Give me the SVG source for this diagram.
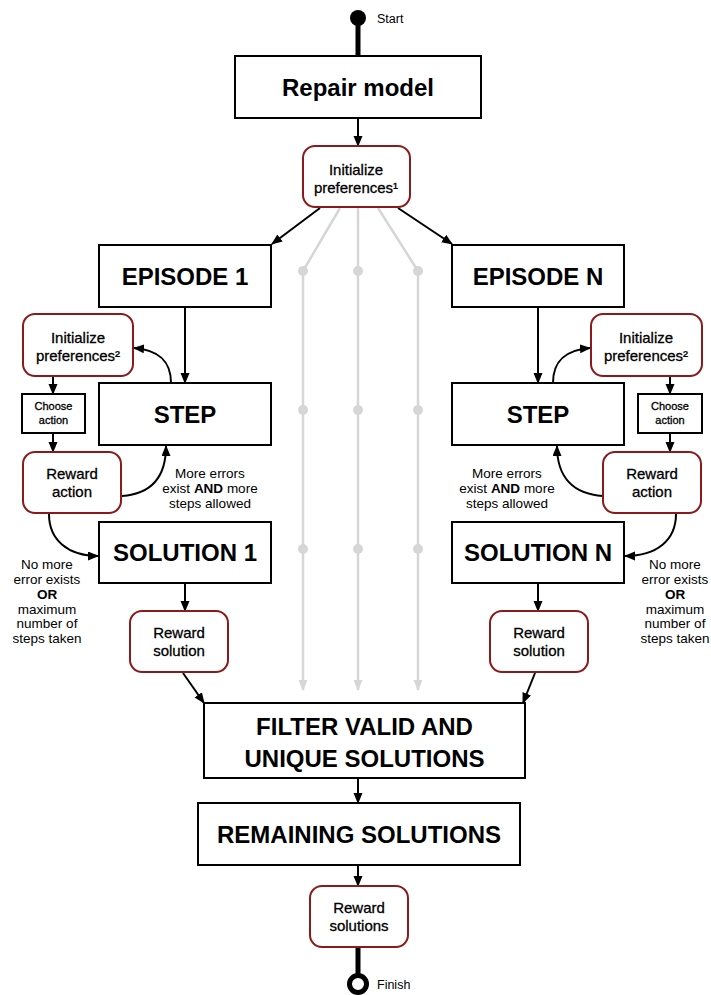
<svg xmlns="http://www.w3.org/2000/svg" width="711" height="995" viewBox="0 0 711 995">
  <style>
    .box { fill: #ffffff; stroke: #000000; stroke-width: 2; }
    .rbox { fill: #ffffff; stroke: #8b1a1a; stroke-width: 2; }
    .head { font-family: "Liberation Sans", Arial, sans-serif; font-weight: bold; font-size: 24px; fill: #000; text-anchor: middle; }
    .node { font-family: "Liberation Sans", Arial, sans-serif; font-size: 15px; fill: #000; stroke: #000; stroke-width: 0.3; text-anchor: middle; }
    .small { font-family: "Liberation Sans", Arial, sans-serif; font-size: 11px; fill: #000; stroke: #000; stroke-width: 0.3; text-anchor: middle; }
    .lbl { font-family: "Liberation Sans", Arial, sans-serif; font-size: 13.5px; fill: #000; text-anchor: middle; }
    .term { font-family: "Liberation Sans", Arial, sans-serif; font-size: 12.5px; fill: #000; }
    .edge { fill: none; stroke: #000000; stroke-width: 2; }
    .gray { fill: none; stroke: #d6d6d6; stroke-width: 2.5; }
    .dot { fill: #d6d6d6; }
  </style>
  <defs>
    <marker id="arrow" markerUnits="userSpaceOnUse" markerWidth="11" markerHeight="10" refX="10" refY="4.5" orient="auto">
      <path d="M0,0 L11,4.5 L0,9 z" fill="#000000"/>
    </marker>
    <marker id="arrowGray" markerUnits="userSpaceOnUse" markerWidth="11" markerHeight="10" refX="10" refY="4.5" orient="auto">
      <path d="M0,0 L11,4.5 L0,9 z" fill="#d6d6d6"/>
    </marker>
  </defs>

  <!-- parallel episodes (faded) -->
  <g id="parallel-episodes">
    <path class="gray" d="M340,208 L303,271 L303,690" marker-end="url(#arrowGray)"/>
    <path class="gray" d="M358,208 L358,690" marker-end="url(#arrowGray)"/>
    <path class="gray" d="M378,208 L418,271 L418,690" marker-end="url(#arrowGray)"/>
    <circle class="dot" cx="303" cy="271" r="5"/>
    <circle class="dot" cx="358" cy="271" r="5"/>
    <circle class="dot" cx="418" cy="271" r="5"/>
    <circle class="dot" cx="303" cy="410" r="5"/>
    <circle class="dot" cx="358" cy="410" r="5"/>
    <circle class="dot" cx="418" cy="410" r="5"/>
    <circle class="dot" cx="303" cy="549" r="5"/>
    <circle class="dot" cx="358" cy="549" r="5"/>
    <circle class="dot" cx="418" cy="549" r="5"/>
  </g>

  <!-- connectors -->
  <g id="connectors">
    <line x1="358" y1="18" x2="358" y2="56" stroke="#000" stroke-width="5"/>
    <line x1="358" y1="947" x2="358" y2="975" stroke="#000" stroke-width="5"/>
    <path class="edge" d="M358,118 L358,146" marker-end="url(#arrow)"/>
    <path class="edge" d="M320,208 L272,244" marker-end="url(#arrow)"/>
    <path class="edge" d="M398,208 L452,244" marker-end="url(#arrow)"/>
    <path class="edge" d="M185,307 L185,383" marker-end="url(#arrow)"/>
    <path class="edge" d="M538,307 L538,383" marker-end="url(#arrow)"/>
    <path class="edge" d="M171,383 C171,362 160,350 134,348" marker-end="url(#arrow)"/>
    <path class="edge" d="M553,383 C553,362 564,350 590,348" marker-end="url(#arrow)"/>
    <path class="edge" d="M53,376 L53,394" marker-end="url(#arrow)"/>
    <path class="edge" d="M670,376 L670,394" marker-end="url(#arrow)"/>
    <path class="edge" d="M53,433 L53,452" marker-end="url(#arrow)"/>
    <path class="edge" d="M670,433 L670,452" marker-end="url(#arrow)"/>
    <path class="edge" d="M122,496 C150,494 166,478 166,446" marker-end="url(#arrow)"/>
    <path class="edge" d="M603,496 C574,494 557,478 557,446" marker-end="url(#arrow)"/>
    <path class="edge" d="M49,514 C49,540 68,556 98,556" marker-end="url(#arrow)"/>
    <path class="edge" d="M676,514 C676,540 657,556 625,556" marker-end="url(#arrow)"/>
    <path class="edge" d="M185,583 L185,611" marker-end="url(#arrow)"/>
    <path class="edge" d="M538,583 L538,611" marker-end="url(#arrow)"/>
    <path class="edge" d="M183,673 L204,703" marker-end="url(#arrow)"/>
    <path class="edge" d="M535,673 L523,703" marker-end="url(#arrow)"/>
    <path class="edge" d="M358,778 L358,803" marker-end="url(#arrow)"/>
    <path class="edge" d="M358,865 L358,886" marker-end="url(#arrow)"/>
  </g>

  <!-- edge labels -->
  <g id="labels">
    <text class="lbl" x="210" y="478">More errors</text>
    <text class="lbl" x="210" y="493">exist <tspan font-weight="bold">AND</tspan> more</text>
    <text class="lbl" x="210" y="508">steps allowed</text>
    <text class="lbl" x="507" y="478">More errors</text>
    <text class="lbl" x="507" y="493">exist <tspan font-weight="bold">AND</tspan> more</text>
    <text class="lbl" x="507" y="508">steps allowed</text>
    <text class="lbl" x="47" y="569">No more</text>
    <text class="lbl" x="47" y="584">error exists</text>
    <text class="lbl" x="47" y="599" font-weight="bold">OR</text>
    <text class="lbl" x="47" y="614">maximum</text>
    <text class="lbl" x="47" y="628">number of</text>
    <text class="lbl" x="47" y="643">steps taken</text>
    <text class="lbl" x="675" y="569">No more</text>
    <text class="lbl" x="675" y="584">error exists</text>
    <text class="lbl" x="675" y="599" font-weight="bold">OR</text>
    <text class="lbl" x="675" y="614">maximum</text>
    <text class="lbl" x="675" y="628">number of</text>
    <text class="lbl" x="675" y="643">steps taken</text>
  </g>

  <g id="start">
    <circle cx="358" cy="18" r="8" fill="#000"/>
    <text class="term" x="377" y="23">Start</text>
  </g>

  <g id="repair-model">
    <rect class="box" x="235" y="56" width="246" height="62"/>
    <text class="head" x="358" y="96" font-size="25">Repair model</text>
  </g>

  <g id="init-preferences">
    <rect class="rbox" x="303" y="146" width="107" height="61" rx="12"/>
    <text class="node" x="356" y="175">Initialize</text>
    <text class="node" x="356" y="193">preferences¹</text>
  </g>

  <g id="episode-1">
    <rect class="box" x="99" y="245" width="172" height="62"/>
    <text class="head" x="185" y="285">EPISODE 1</text>
  </g>

  <g id="episode-n">
    <rect class="box" x="452" y="245" width="172" height="62"/>
    <text class="head" x="538" y="285">EPISODE N</text>
  </g>

  <g id="init-preferences-1">
    <rect class="rbox" x="23" y="314" width="110" height="62" rx="12"/>
    <text class="node" x="78" y="343">Initialize</text>
    <text class="node" x="78" y="361">preferences²</text>
  </g>

  <g id="init-preferences-n">
    <rect class="rbox" x="591" y="314" width="111" height="62" rx="12"/>
    <text class="node" x="646" y="343">Initialize</text>
    <text class="node" x="646" y="361">preferences²</text>
  </g>

  <g id="step-1">
    <rect class="box" x="99" y="383" width="172" height="62"/>
    <text class="head" x="185" y="423">STEP</text>
  </g>

  <g id="step-n">
    <rect class="box" x="452" y="383" width="172" height="62"/>
    <text class="head" x="538" y="423">STEP</text>
  </g>

  <g id="choose-action-1">
    <rect class="box" x="22" y="394" width="63" height="39"/>
    <text class="small" x="53.5" y="410">Choose</text>
    <text class="small" x="53.5" y="424">action</text>
  </g>

  <g id="choose-action-n">
    <rect class="box" x="638" y="394" width="64" height="39"/>
    <text class="small" x="670" y="410">Choose</text>
    <text class="small" x="670" y="424">action</text>
  </g>

  <g id="reward-action-1">
    <rect class="rbox" x="23" y="452" width="98" height="61" rx="12"/>
    <text class="node" x="72" y="479">Reward</text>
    <text class="node" x="72" y="497">action</text>
  </g>

  <g id="reward-action-n">
    <rect class="rbox" x="603" y="452" width="98" height="61" rx="12"/>
    <text class="node" x="652" y="479">Reward</text>
    <text class="node" x="652" y="497">action</text>
  </g>

  <g id="solution-1">
    <rect class="box" x="99" y="522" width="172" height="61"/>
    <text class="head" x="185" y="561">SOLUTION 1</text>
  </g>

  <g id="solution-n">
    <rect class="box" x="452" y="522" width="172" height="61"/>
    <text class="head" x="538" y="561">SOLUTION N</text>
  </g>

  <g id="reward-solution-1">
    <rect class="rbox" x="130" y="611" width="98" height="61" rx="12"/>
    <text class="node" x="179" y="638">Reward</text>
    <text class="node" x="179" y="656">solution</text>
  </g>

  <g id="reward-solution-n">
    <rect class="rbox" x="490" y="611" width="98" height="61" rx="12"/>
    <text class="node" x="539" y="638">Reward</text>
    <text class="node" x="539" y="656">solution</text>
  </g>

  <g id="filter">
    <rect class="box" x="204" y="703" width="321" height="75"/>
    <text class="head" x="364.5" y="735">FILTER VALID AND</text>
    <text class="head" x="364.5" y="767">UNIQUE SOLUTIONS</text>
  </g>

  <g id="remaining-solutions">
    <rect class="box" x="198" y="803" width="322" height="62"/>
    <text class="head" x="359" y="843">REMAINING SOLUTIONS</text>
  </g>

  <g id="reward-solutions">
    <rect class="rbox" x="310" y="886" width="98" height="61" rx="12"/>
    <text class="node" x="359" y="913">Reward</text>
    <text class="node" x="359" y="931">solutions</text>
  </g>

  <g id="finish">
    <circle cx="358" cy="984" r="8.5" fill="#fff" stroke="#000" stroke-width="5"/>
    <text class="term" x="377" y="989">Finish</text>
  </g>
</svg>
